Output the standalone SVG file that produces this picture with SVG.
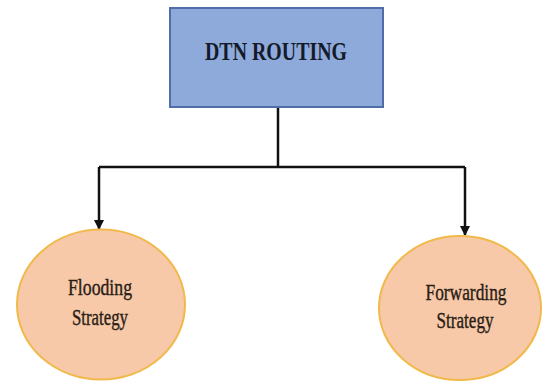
<svg xmlns="http://www.w3.org/2000/svg" width="543" height="388" viewBox="0 0 543 388">
<defs>
<style>
.lbl{font-family:"Liberation Serif","Times New Roman",serif;fill:#2a1d16;stroke:#2a1d16;stroke-width:0.4;text-anchor:middle;font-size:23px}
.ell{fill:#f7c9a8;stroke:#f0b94a;stroke-width:2}
.conn{fill:none;stroke:#111;stroke-width:2.5}
</style>
<marker id="ah" viewBox="0 0 10 10" refX="9" refY="5" markerWidth="4" markerHeight="4" orient="auto">
<path d="M0,0 L10,5 L0,10 z" fill="#111"/>
</marker>
</defs>
<rect width="543" height="388" fill="#ffffff"/>
<g id="connectors">
<path class="conn" d="M278,107 V167"/>
<path class="conn" d="M99,167 H465"/>
<path class="conn" d="M99,167 V229" marker-end="url(#ah)"/>
<path class="conn" d="M465,167 V235" marker-end="url(#ah)"/>
</g>
<g id="dtn-routing">
<rect x="170" y="8" width="213" height="99" fill="#8eaadb" stroke="#4f6ea8" stroke-width="2"/>
<text x="276" y="60" font-family="Liberation Serif, Times New Roman, serif" font-size="26" font-weight="bold" text-anchor="middle" textLength="142" lengthAdjust="spacingAndGlyphs" fill="#151a2a">DTN ROUTING</text>
</g>
<g id="flooding">
<ellipse class="ell" cx="101" cy="304.5" rx="84" ry="75"/>
<text class="lbl" x="100" y="295" textLength="64" lengthAdjust="spacingAndGlyphs">Flooding</text>
<text class="lbl" x="100" y="325" textLength="56" lengthAdjust="spacingAndGlyphs">Strategy</text>
</g>
<g id="forwarding">
<ellipse class="ell" cx="460" cy="308" rx="81" ry="72"/>
<text class="lbl" x="466" y="300" textLength="81" lengthAdjust="spacingAndGlyphs">Forwarding</text>
<text class="lbl" x="465" y="328" textLength="57" lengthAdjust="spacingAndGlyphs">Strategy</text>
</g>
</svg>
